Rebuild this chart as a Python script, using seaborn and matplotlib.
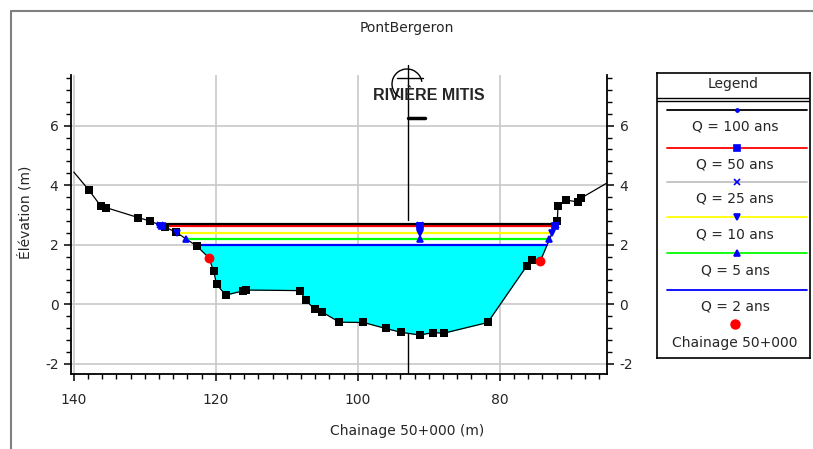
import numpy as np
import pandas as pd
import matplotlib
matplotlib.use("Agg")
import matplotlib.pyplot as plt
import seaborn as sns
from matplotlib.patches import Arc
from matplotlib.lines import Line2D

# ---------------- data ----------------
ground_x = [140.0, 137.9, 136.2, 135.5, 130.9, 129.3, 127.2, 125.6, 122.7,
            120.3, 119.9, 118.6, 116.2, 115.7, 108.2, 107.3, 106.1, 105.1,
            102.6, 99.2, 96.1, 93.9, 91.3, 89.4, 87.9, 81.7, 76.2, 75.5,
            71.9, 71.8, 70.7, 69.0, 68.6, 65.0]
ground_y = [4.44, 3.84, 3.30, 3.25, 2.91, 2.80, 2.60, 2.42, 1.96,
            1.12, 0.67, 0.31, 0.45, 0.48, 0.46, 0.14, -0.17, -0.25,
            -0.60, -0.61, -0.81, -0.94, -1.03, -0.95, -0.97, -0.61, 1.29, 1.49,
            2.80, 3.30, 3.50, 3.44, 3.56, 4.06]

bank_x = [121.0, 74.3]
bank_y = [1.57, 1.45]

ws_labels = ["Q = 100 ans", "Q = 50 ans", "Q = 25 ans", "Q = 10 ans", "Q = 5 ans", "Q = 2 ans"]
ws_elev = [2.70, 2.64, 2.67, 2.38, 2.19, 1.99]
ws_left = [128.2, 127.6, 127.9, 125.4, 124.2, 122.9]
ws_right = [72.05, 72.2, 72.1, 72.7, 73.0, 73.3]
ws_mid = 91.3
ws_colors = ["black", "red", "#c0c0c0", "yellow", "#00ff00", "blue"]
ws_markers = [".", "s", "x", "v", "^", None]
ws_order = [3, 2, 4, 1, 0, 5]  # draw order (zorder rank)

bridge_x = 93.0
bank_label = "Chainage 50+000"
title = "PontBergeron"
river_label = "RIVIÈRE MITIS"
xlabel = "Chainage 50+000 (m)"
ylabel = "Élévation (m)"

# ---------------- figure ----------------
sns.set_style("white")
plt.rcParams["font.family"] = ["DejaVu Sans"]
plt.rcParams["axes.unicode_minus"] = False

W, H = 813, 449
fig = plt.figure(figsize=(W / 100, H / 100), dpi=100)

def fx(px):
    return px / W

def fy(py):
    return 1 - py / H

ax_l, ax_r, ax_t, ax_b = 71, 607, 75, 374
ax = fig.add_axes([fx(ax_l), fy(ax_b), fx(ax_r - ax_l), (ax_b - ax_t) / H])

# combined profile (survey points + bank stations)
gx_all = np.array(ground_x + bank_x)
gy_all = np.array(ground_y + bank_y)
order = np.argsort(gx_all)
gx_all, gy_all = gx_all[order], gy_all[order]

# water fill under 2-year level
ax.fill_between(gx_all, gy_all, ws_elev[5], where=gy_all < ws_elev[5],
                interpolate=True, color="#00ffff", lw=0, zorder=2)

# bridge / section line
ax.plot([bridge_x, bridge_x], [-2.5, 1.0], color="black", lw=1.0, zorder=1)
ax.plot([bridge_x, bridge_x], [2.83, 8.03], color="black", lw=1.0, zorder=3, clip_on=False)
ax.plot([bridge_x, bridge_x - 2.4], [6.25, 6.25], color="black", lw=2.5, zorder=3)

# ground line
prof = pd.DataFrame({"x": gx_all, "y": gy_all})
sns.lineplot(data=prof, x="x", y="y", sort=False, estimator=None, ax=ax,
             color="black", lw=0.9, zorder=4)

# water surface lines
for rank, i in enumerate(ws_order):
    xs = [ws_left[i], ws_mid, ws_right[i]]
    ys = [ws_elev[i]] * 3
    ax.plot(xs, ys, color=ws_colors[i], lw=1.6, zorder=5 + rank * 0.1)

# survey markers
pts = pd.DataFrame({"x": ground_x[1:-1], "y": ground_y[1:-1]})
sns.scatterplot(data=pts, x="x", y="y", ax=ax, marker="s", s=28, color="black",
                edgecolor="black", linewidth=0, zorder=7)

# water surface markers
for i in range(len(ws_labels)):
    if ws_markers[i] is None:
        continue
    xs = [ws_left[i], ws_mid, ws_right[i]]
    ys = [ws_elev[i]] * 3
    ax.plot(xs, ys, ls="none", marker=ws_markers[i], color="blue", ms=4.5,
            mew=1.2, zorder=8)

# bank stations
banks = pd.DataFrame({"x": bank_x, "y": bank_y})
sns.scatterplot(data=banks, x="x", y="y", ax=ax, marker="o", s=50, color="red",
                edgecolor="red", linewidth=0, zorder=9)

ax.set_xlim(140.4, 64.9)
ax.set_ylim(-2.34, 7.70)
ax.set_xticks([140, 120, 100, 80])
ax.set_xticks(np.arange(66, 141, 2), minor=True)
ax.set_yticks([-2, 0, 2, 4, 6])
ax.set_yticks(np.arange(-2.0, 7.7, 0.4), minor=True)
ax.grid(True, which="major", color="#c8c8c8", lw=1.2)
ax.set_axisbelow(True)
ax.set_xlabel("")
ax.set_ylabel("")
for s in ["left", "right", "bottom"]:
    ax.spines[s].set_color("black")
    ax.spines[s].set_linewidth(1.3)
ax.spines["top"].set_visible(False)
ax.tick_params(axis="both", which="major", direction="out", length=5, width=1.1,
               labelsize=10, color="black")
ax.tick_params(axis="both", which="minor", direction="out", length=3.5, width=1.0,
               color="black")
ax.tick_params(axis="y", which="both", left=True, right=True, labelleft=True,
               labelright=True, pad=4)
ax.tick_params(axis="x", which="both", bottom=True, pad=9)

# river label and symbol
ax.text(90.0, 7.0, river_label, ha="center", va="center", fontsize=11.5,
        fontweight="bold", family=["Liberation Sans Narrow", "Liberation Sans"],
        zorder=10)
fig.add_artist(Arc((fx(407), fy(84)), fx(30), 30 / H, theta1=15, theta2=255,
                   color="black", lw=1.0, transform=fig.transFigure))
fig.add_artist(Line2D([fx(397), fx(423)], [fy(78), fy(78)], color="black", lw=1.0,
                      transform=fig.transFigure))

# titles
fig.text(fx(407), fy(28), title, ha="center", va="center", fontsize=10)
fig.text(fx(407), fy(431), xlabel, ha="center", va="center", fontsize=10)
fig.text(fx(25), fy(212), ylabel, ha="center", va="center", fontsize=10, rotation=90)

# outer frame
fig.add_artist(Line2D([fx(11), fx(813)], [fy(11), fy(11)], color="#808080", lw=1.5,
                      transform=fig.transFigure))
fig.add_artist(Line2D([fx(11), fx(11)], [fy(11), fy(449)], color="#808080", lw=1.5,
                      transform=fig.transFigure))

# legend box
lg_l, lg_r, lg_t, lg_b = 657, 810, 73, 358
lax = fig.add_axes([fx(lg_l), fy(lg_b), fx(lg_r - lg_l), (lg_b - lg_t) / H])
lax.set_xlim(lg_l, lg_r)
lax.set_ylim(lg_b, lg_t)
lax.set_xticks([])
lax.set_yticks([])
for s in lax.spines.values():
    s.set_color("black")
    s.set_linewidth(1.2)
lax.text((lg_l + lg_r) / 2, 84, "Legend", ha="center", va="center", fontsize=10)
lax.plot([lg_l, lg_r], [98, 98], color="black", lw=1.0)
lax.plot([lg_l, lg_r], [100.5, 100.5], color="black", lw=1.0)
line_y = [109.5, 147.5, 181.5, 217, 253, 289.5]
for i, lab in enumerate(ws_labels):
    yy = line_y[i]
    lax.plot([667, 807], [yy, yy], color=ws_colors[i], lw=1.3)
    if ws_markers[i] is not None:
        lax.plot([(667 + 807) / 2], [yy], marker=ws_markers[i], color="blue",
                 ms=4.5, mew=1.2, ls="none")
    lax.text(735, yy + 17.5, lab, ha="center", va="center", fontsize=10)
lax.plot([735], [323.5], marker="o", color="red", ms=6.5, ls="none")
lax.text(735, 343, bank_label, ha="center", va="center", fontsize=10)

fig.savefig("out.png", dpi=100)
